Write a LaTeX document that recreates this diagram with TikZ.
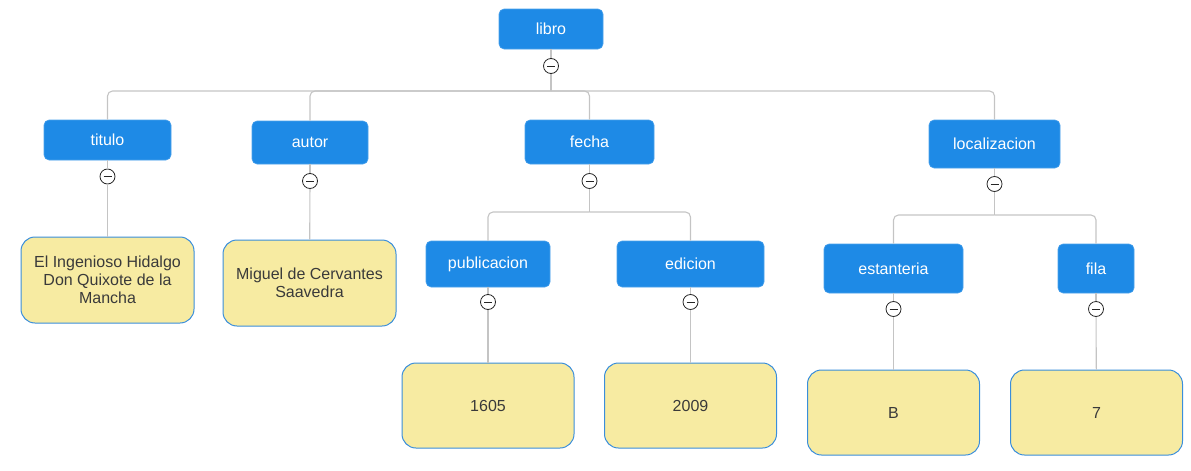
\documentclass[tikz,border=0pt]{standalone}
\usepackage{fontspec}
\setmainfont{Liberation Sans}
\definecolor{boxblue}{HTML}{1E8AE6}
\definecolor{leafyellow}{HTML}{F7EBA2}
\definecolor{leafborder}{HTML}{3A8EDB}
\definecolor{linegray}{HTML}{C4C4C4}
\definecolor{txtgray}{HTML}{3A3A3A}
\begin{document}
\begin{tikzpicture}[x=1pt,y=-1pt,
  keybox/.style={rectangle, rounded corners=5pt, fill=boxblue, draw=boxblue!80!white, line width=0.6pt,
    text=white, font=\fontsize{16}{18}\selectfont, inner sep=0pt, align=center},
  leafbox/.style={rectangle, rounded corners=14pt, fill=leafyellow, draw=leafborder, line width=1pt,
    text=txtgray, font=\fontsize{16}{18}\selectfont, inner sep=0pt, align=center,
    minimum width=172pt, minimum height=85pt},
  tog/.style={circle, draw=black!85, fill=white, line width=0.8pt, minimum size=15pt, inner sep=0pt,
    path picture={\draw[line width=1pt, black!85] ([xshift=-4pt]path picture bounding box.center) -- ([xshift=4pt]path picture bounding box.center);}},
  conn/.style={draw=linegray, line width=1.1pt},
  bus/.style={conn, rounded corners=5pt}
]
\useasboundingbox (0,0) rectangle (1191,471);
% key nodes
\node[keybox, minimum width=104pt, minimum height=40pt] (libro) at (551,29) {libro};
\node[keybox, minimum width=127pt, minimum height=40pt] (titulo) at (107.5,140) {titulo};
\node[keybox, minimum width=116pt, minimum height=43pt] (autor) at (310,142.5) {autor};
\node[keybox, minimum width=129pt, minimum height=44pt] (fecha) at (589.5,142) {fecha};
\node[keybox, minimum width=131pt, minimum height=48pt] (loc) at (994.5,144) {localizacion};
\node[keybox, minimum width=124pt, minimum height=46pt] (pub) at (488,264) {publicacion};
\node[keybox, minimum width=147pt, minimum height=46pt] (edi) at (690.5,264) {edicion};
\node[keybox, minimum width=139pt, minimum height=49pt] (est) at (893.5,268.5) {estanteria};
\node[keybox, minimum width=76pt, minimum height=49pt] (fila) at (1096,268.5) {fila};
% leaf nodes
\node[leafbox, minimum width=173pt, minimum height=86pt] (l1) at (107.5,280) {El Ingenioso Hidalgo\\Don Quixote de la\\Mancha};
\node[leafbox, minimum width=173pt, minimum height=86pt] (l2) at (309.5,283) {Miguel de Cervantes\\Saavedra};
\node[leafbox] (l3) at (488,405.5) {1605};
\node[leafbox] (l4) at (690.5,405.5) {2009};
\node[leafbox] (l5) at (893.5,412.5) {B};
\node[leafbox] (l6) at (1096.5,412.5) {7};
% toggles
\node[tog] (tlibro) at (551,66) {};
\node[tog] (ttitulo) at (107.5,176.5) {};
\node[tog] (tautor) at (310,181) {};
\node[tog] (tfecha) at (589.5,181) {};
\node[tog] (tloc) at (994.5,184) {};
\node[tog] (tpub) at (488,302) {};
\node[tog] (tedi) at (690.5,302) {};
\node[tog] (test) at (893.5,309) {};
\node[tog] (tfila) at (1096,309) {};
% bus coordinates
\coordinate (b1) at (551,91);
\coordinate (b2) at (589.5,212);
\coordinate (b3) at (994.5,215);
% connectors
\draw[conn] (libro) -- (tlibro);
\draw[conn] (tlibro) -- (b1);
\draw[bus] (titulo.north) |- (b1);
\draw[bus] (autor.north) |- (b1);
\draw[bus] (fecha.north) |- (b1);
\draw[bus] (loc.north) |- (b1);
\draw[conn] (titulo) -- (ttitulo);
\draw[conn] (ttitulo) -- (l1);
\draw[conn] (autor) -- (tautor);
\draw[conn] (tautor) -- (l2);
\draw[conn] (fecha) -- (tfecha);
\draw[conn] (tfecha) -- (b2);
\draw[bus] (pub.north) |- (b2);
\draw[bus] (edi.north) |- (b2);
\draw[conn] (loc) -- (tloc);
\draw[conn] (tloc) -- (b3);
\draw[bus] (est.north) |- (b3);
\draw[bus] (fila.north) |- (b3);
\draw[conn] (pub) -- (tpub);
\draw[conn] (tpub) -- (l3);
\draw[conn] (edi) -- (tedi);
\draw[conn] (tedi) -- (l4);
\draw[conn] (est) -- (test);
\draw[conn] (test) -- (l5);
\draw[conn] (fila) -- (tfila);
\draw[conn] (tfila) -- (l6);
\end{tikzpicture}
\end{document}
